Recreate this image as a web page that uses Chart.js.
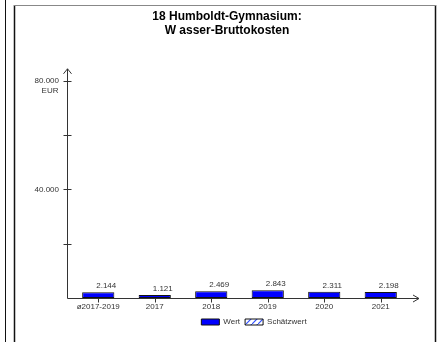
<!DOCTYPE html>
<html>
<head>
<meta charset="utf-8">
<script src="https://cdn.jsdelivr.net/npm/chart.js@4.4.1/dist/chart.umd.min.js"></script>
<style>
  html, body { margin:0; padding:0; background:#fff; }
  canvas { display:block; }
</style>
</head>
<body>
<canvas id="chart" width="440" height="342"></canvas>
<script>
// data
var categories = ["ø2017-2019", "2017", "2018", "2019", "2020", "2021"];
var wert = [2144, 1121, 2469, 2843, 2311, 2198];
var schaetzwert = [];
var yMax = 80000;
var yStep = 20000;
var yLabels = { 80000: "80.000", 40000: "40.000" };
var yUnit = "EUR";
var titleLines = ["18 Humboldt-Gymnasium:", "W asser-Bruttokosten"];

var FONT = "'Liberation Sans', Arial, sans-serif";
var TXT = "#333";

function fmt(v) {
    return String(v).replace(/\B(?=(\d{3})+(?!\d))/g, ".");
}

// little hatch for the Schätzwert legend box
function makePattern() {
    var c = document.createElement("canvas");
    c.width = 6; c.height = 6;
    var g = c.getContext("2d");
    g.fillStyle = "#fff";
    g.fillRect(0, 0, 6, 6);
    g.strokeStyle = "#3050ff";
    g.lineWidth = 1.2;
    g.beginPath();
    g.moveTo(0, 6); g.lineTo(6, 0);
    g.stroke();
    return g.createPattern(c, "repeat");
}

var AXIS_GAP = 3; // y axis sits a bit left of the first category

var decor = {
    id: "decor",
    afterLayout: function(chart) {
        // nudge legend to the right like the original
        var lg = chart.legend;
        if (lg) { lg.left += 27; lg.right += 27; }
    },
    beforeDraw: function(chart) {
        var ctx = chart.ctx;
        ctx.save();
        ctx.fillStyle = "#fff";
        ctx.fillRect(0, 0, chart.width, chart.height);
        ctx.lineWidth = 1;
        ctx.strokeStyle = "#111";
        ctx.beginPath();
        ctx.moveTo(5.5, 0); ctx.lineTo(5.5, 342);
        ctx.stroke();
        ctx.lineWidth = 1.5;
        ctx.beginPath();
        ctx.moveTo(14.5, 5); ctx.lineTo(14.5, 342);
        ctx.moveTo(435.5, 5); ctx.lineTo(435.5, 342);
        ctx.stroke();
        ctx.strokeStyle = "#888";
        ctx.lineWidth = 1;
        ctx.beginPath();
        ctx.moveTo(14, 5.5); ctx.lineTo(436, 5.5);
        ctx.stroke();
        ctx.restore();
    },
    afterDraw: function(chart) {
        var ctx = chart.ctx;
        var a = chart.chartArea;
        var xs = chart.scales.x, ys = chart.scales.y;
        var x0 = Math.round(a.left) - AXIS_GAP + 0.5;
        var y0 = Math.round(a.bottom) + 0.5;
        var right = a.right + 10;
        ctx.save();
        ctx.strokeStyle = "#333";
        ctx.lineWidth = 1;
        ctx.beginPath();
        // y axis + arrow
        ctx.moveTo(x0, y0); ctx.lineTo(x0, a.top - 12);
        ctx.moveTo(x0 - 4, a.top - 7); ctx.lineTo(x0, a.top - 12); ctx.lineTo(x0 + 4, a.top - 7);
        // x axis + arrow
        ctx.moveTo(x0, y0); ctx.lineTo(right, y0);
        ctx.moveTo(right - 6, y0 - 3.5); ctx.lineTo(right, y0); ctx.lineTo(right - 6, y0 + 3.5);
        // y ticks
        for (var v = yStep; v <= yMax; v += yStep) {
            var py = Math.round(ys.getPixelForValue(v)) + 0.5;
            ctx.moveTo(x0 - 4, py); ctx.lineTo(x0 + 4, py);
        }
        // x ticks
        for (var i = 0; i < categories.length; i++) {
            var px = Math.round(xs.getPixelForTick(i)) + 0.5;
            ctx.moveTo(px, y0); ctx.lineTo(px, y0 + 4);
        }
        ctx.stroke();

        ctx.fillStyle = TXT;
        ctx.font = "8px " + FONT;
        ctx.textAlign = "right";
        ctx.textBaseline = "middle";
        ctx.fillText(yUnit, x0 - 9, ys.getPixelForValue(yMax) + 10);

        // value labels above bars
        ctx.textAlign = "center";
        ctx.textBaseline = "bottom";
        var meta = chart.getDatasetMeta(0);
        meta.data.forEach(function(bar, k) {
            ctx.fillText(fmt(wert[k]), bar.x + 8, bar.y - 2);
        });
        ctx.restore();
    }
};

var ctx = document.getElementById("chart");
new Chart(ctx, {
    type: "bar",
    data: {
        labels: categories,
        datasets: [{
            label: "Wert",
            data: wert,
            backgroundColor: "#0000ff",
            borderColor: "#111",
            borderWidth: 1,
            borderSkipped: false,
            grouped: false,
            categoryPercentage: 1,
            barPercentage: 0.57
        }, {
            label: "Schätzwert",
            data: schaetzwert,
            backgroundColor: makePattern(),
            borderColor: "#111",
            borderWidth: 1,
            grouped: false
        }]
    },
    options: {
        responsive: false,
        animation: false,
        layout: { padding: { left: 14, right: 0, top: 0, bottom: 6 } },
        scales: {
            x: {
                grid: { display: false, drawTicks: false },
                border: { display: false },
                ticks: { color: TXT, font: { family: FONT, size: 8 }, padding: 4, maxRotation: 0 },
                afterFit: function(s) { s.height = 15; }
            },
            y: {
                min: 0,
                max: yMax,
                grid: { display: false, drawTicks: false },
                border: { display: false },
                ticks: {
                    stepSize: yStep,
                    color: TXT,
                    font: { family: FONT, size: 8 },
                    padding: 8 + AXIS_GAP,
                    callback: function(v) { return yLabels[v] || ""; }
                },
                afterFit: function(s) { s.width = 53 + AXIS_GAP; }
            },
            y2: {
                type: "linear",
                position: "right",
                grid: { display: false, drawTicks: false },
                border: { display: false },
                ticks: { display: false },
                afterFit: function(s) { s.width = 31; }
            }
        },
        plugins: {
            title: {
                display: true,
                text: titleLines,
                color: "#000",
                font: { family: FONT, size: 12, weight: "bold", lineHeight: 1.2 },
                padding: { top: 9, bottom: 43 }
            },
            legend: {
                position: "bottom",
                labels: {
                    color: TXT,
                    font: { family: FONT, size: 8 },
                    boxWidth: 18,
                    boxHeight: 6,
                    padding: 5
                }
            },
            tooltip: { enabled: false }
        }
    },
    plugins: [decor]
});
</script>
</body>
</html>
